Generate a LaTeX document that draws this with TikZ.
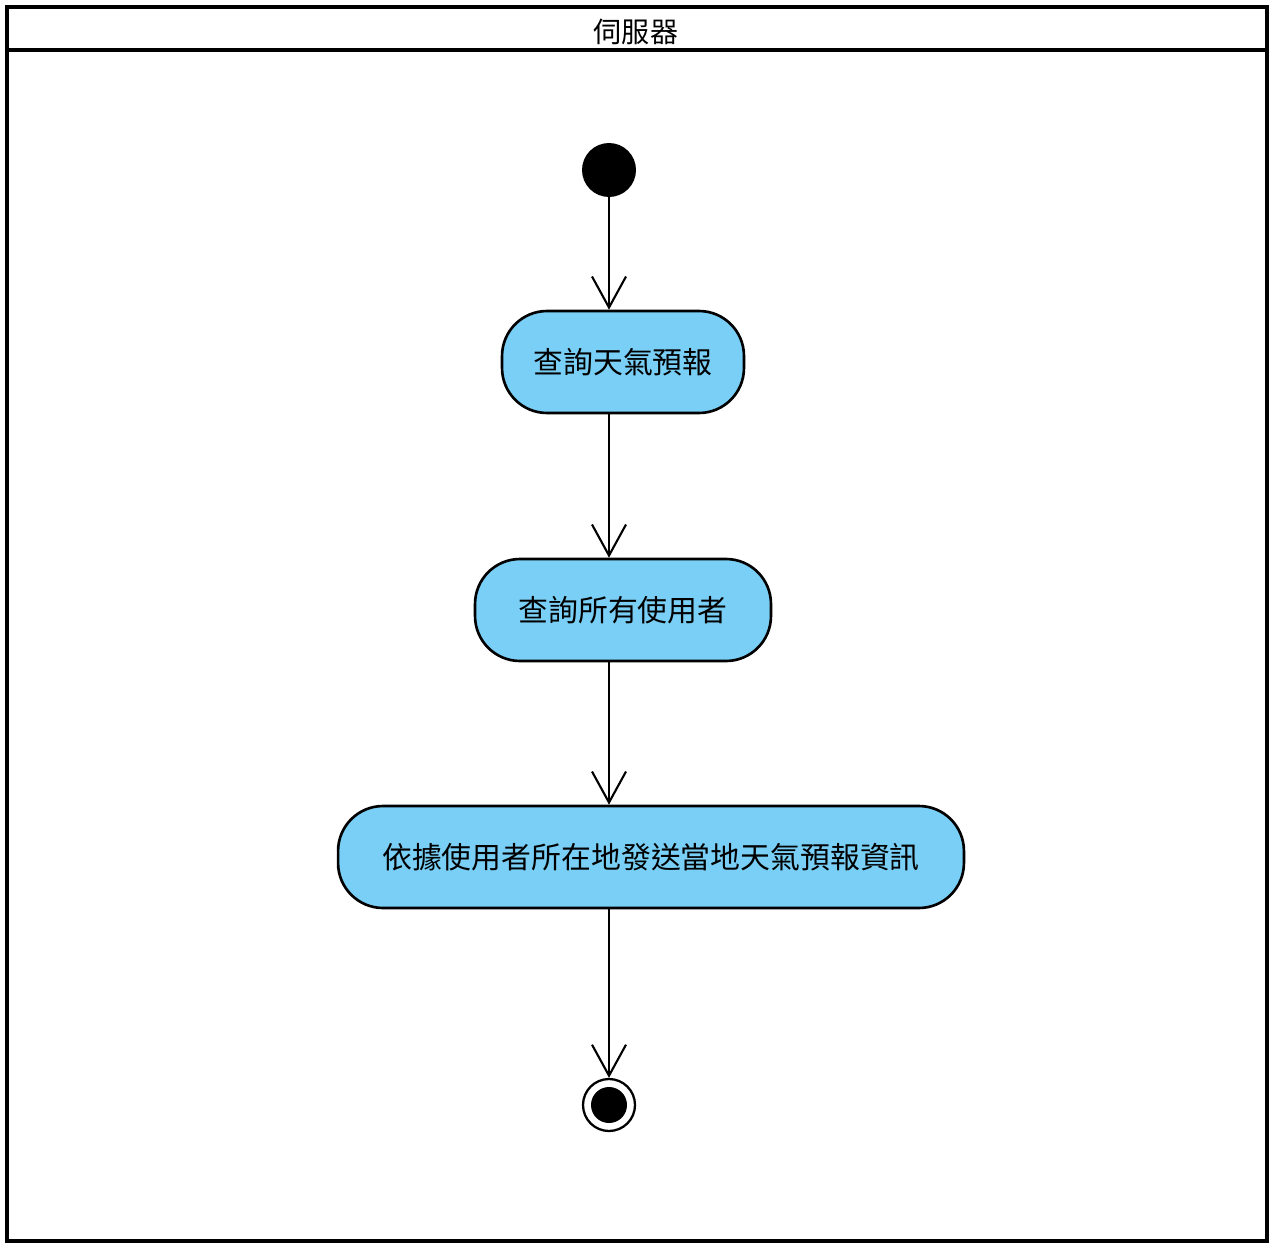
\documentclass[tikz,border=0pt]{standalone}
\usepackage{fontspec}
\newfontfamily\cjk{Noto Sans CJK TC}
\usetikzlibrary{arrows.meta,positioning}
\definecolor{actblue}{HTML}{79CFF5}

\begin{document}
\begin{tikzpicture}[x=0.02cm,y=-0.02cm,
  act/.style={draw,line width=1.5pt,fill=actblue,
    rounded corners=0.9cm,minimum height=2.04cm,
    font=\cjk\fontsize{17}{20}\selectfont,inner sep=0pt},
  flow/.style={line width=1.2pt,
    -{Straight Barb[length=0.62cm,width=0.68cm]}},
  nodes={anchor=center,align=center}]
 \useasboundingbox (0,0) rectangle (1280,1253);
 % swimlane
 \draw[line width=2.6pt] (7,7) rectangle (1267,1241);
 \draw[line width=2.6pt] (7,50) -- (1267,50);
 \node[font=\cjk\fontsize{16}{18}\selectfont] (lane) at (636,32) {伺服器};
 % activities
 \node[circle,fill=black,minimum size=1.08cm,inner sep=0pt] (start) at (609,170) {};
 \node[act,minimum width=4.84cm] (query) at (623,362) {查詢天氣預報};
 \node[act,minimum width=5.92cm] (users) at (623,610) {查詢所有使用者};
 \node[act,minimum width=12.52cm] (send) at (651,857) {依據使用者所在地發送當地天氣預報資訊};
 \node[circle,draw,line width=1.3pt,minimum size=1.04cm,inner sep=0pt] (end) at (609,1105) {};
 \node[circle,fill=black,minimum size=0.72cm,inner sep=0pt] (endin) at (end) {};
 % flows
 \draw[flow] (start.south) -- (start |- query.north);
 \draw[flow] (query.south -| start) -- (users.north -| start);
 \draw[flow] (users.south -| start) -- (send.north -| start);
 \draw[flow] (send.south -| start) -- (end.north);
\end{tikzpicture}
\end{document}
